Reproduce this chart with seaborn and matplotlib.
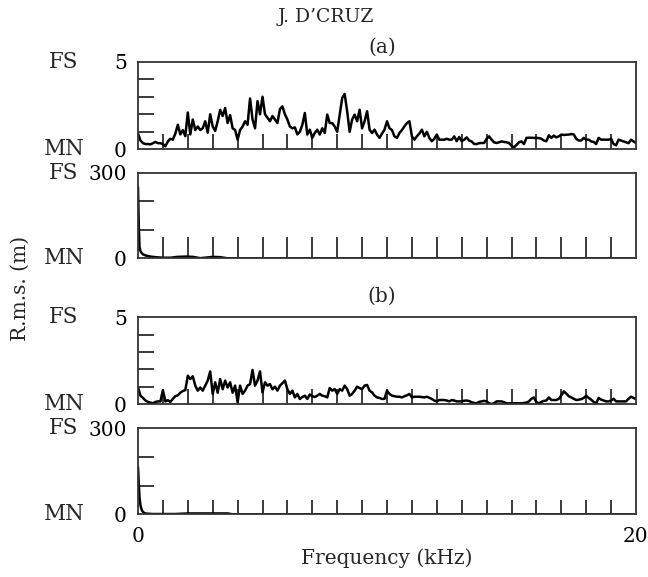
import numpy as np
import pandas as pd
import matplotlib
matplotlib.use("Agg")
import matplotlib.pyplot as plt
import seaborn as sns

# ---------------- data ----------------
# frequency grid (kHz) for the narrow-range spectra, 0.1 kHz spacing
freq_hi = np.round(np.arange(0, 201) * 0.1, 1)

rms_a_hi = [
    0.9, 0.5, 0.35, 0.3, 0.3, 0.28, 0.35, 0.42, 0.35, 0.35,
    0.3, 0.17, 0.45, 0.6, 0.55, 0.9, 1.4, 0.85, 1.1, 0.75,
    2.1, 0.85, 1.7, 1.1, 1.3, 1.1, 1.2, 1.6, 0.95, 2.0,
    1.3, 1.05, 1.6, 2.25, 1.9, 2.35, 1.5, 1.95, 1.2, 1.1,
    0.55, 1.1, 1.3, 1.6, 1.4, 2.9, 1.7, 1.2, 2.75, 2.0,
    3.0, 2.0, 1.8, 1.6, 1.9, 1.7, 1.5, 2.3, 2.45, 2.0,
    1.7, 1.3, 1.2, 1.25, 0.85, 1.0, 1.4, 2.07, 0.84, 1.12,
    0.65, 0.93, 1.12, 0.84, 1.2, 0.93, 1.98, 1.5, 1.5, 1.3,
    1.0, 1.98, 2.93, 3.16, 2.17, 1.0, 1.7, 1.98, 1.6, 2.26,
    1.2, 1.6, 2.17, 1.12, 0.93, 1.12, 0.84, 0.65, 0.9, 1.12,
    1.6, 1.2, 1.1, 0.74, 0.65, 0.93, 1.1, 1.31, 1.5, 1.6,
    0.74, 0.55, 0.74, 0.9, 1.12, 0.74, 1.0, 0.65, 0.46, 0.6,
    0.84, 0.55, 0.55, 0.55, 0.6, 0.55, 0.55, 0.74, 0.46, 0.7,
    0.46, 0.55, 0.68, 0.5, 0.45, 0.3, 0.3, 0.35, 0.36, 0.36,
    0.6, 0.74, 0.55, 0.4, 0.36, 0.4, 0.45, 0.42, 0.4, 0.36,
    0.2, 0.11, 0.25, 0.4, 0.45, 0.3, 0.65, 0.66, 0.66, 0.65,
    0.65, 0.64, 0.6, 0.5, 0.46, 0.8, 0.65, 0.78, 0.68, 0.74,
    0.84, 0.82, 0.83, 0.84, 0.87, 0.85, 0.6, 0.5, 0.5, 0.65,
    0.55, 0.55, 0.45, 0.42, 0.3, 0.65, 0.55, 0.55, 0.55, 0.55,
    0.6, 0.3, 0.23, 0.55, 0.5, 0.45, 0.4, 0.35, 0.55, 0.45,
    0.36,
]

rms_b_hi = [
    0.96, 0.48, 0.35, 0.2, 0.12, 0.08, 0.04, 0.12, 0.15, 0.15,
    0.8, 0.15, 0.22, 0.12, 0.3, 0.45, 0.5, 0.65, 0.75, 0.8,
    1.63, 1.44, 1.6, 1.06, 0.77, 0.95, 0.77, 1.06, 1.35, 1.88,
    0.58, 1.25, 0.65, 1.44, 0.85, 1.35, 0.95, 1.25, 0.65, 1.06,
    0.1, 1.06, 0.58, 0.77, 1.06, 1.15, 1.96, 1.06, 1.35, 1.88,
    0.67, 1.25, 1.06, 1.15, 0.85, 1.0, 0.77, 1.06, 1.2, 1.35,
    0.85, 0.58, 0.77, 0.38, 0.58, 0.29, 0.4, 0.48, 0.29, 0.55,
    0.45, 0.4, 0.48, 0.58, 0.48, 0.45, 0.38, 0.92, 0.77, 0.86,
    0.58, 0.86, 0.77, 1.06, 0.86, 0.48, 0.58, 0.77, 1.0, 0.92,
    0.86, 1.06, 1.1, 0.77, 0.67, 0.48, 0.38, 0.35, 0.29, 0.3,
    0.77, 0.58, 0.48, 0.45, 0.42, 0.42, 0.38, 0.45, 0.5, 0.58,
    0.38, 0.42, 0.42, 0.42, 0.4, 0.38, 0.42, 0.36, 0.29, 0.2,
    0.15, 0.23, 0.23, 0.23, 0.2, 0.15, 0.23, 0.2, 0.15, 0.15,
    0.15, 0.19, 0.2, 0.17, 0.1, 0.06, 0.04, 0.12, 0.15, 0.18,
    0.15, 0.04, 0.0, 0.04, 0.15, 0.15, 0.15, 0.1, 0.04, 0.04,
    0.04, 0.04, 0.04, 0.04, 0.04, 0.06, 0.08, 0.15, 0.3, 0.38,
    0.1, 0.04, 0.12, 0.18, 0.2, 0.38, 0.23, 0.23, 0.23, 0.3,
    0.5, 0.73, 0.6, 0.45, 0.38, 0.3, 0.23, 0.25, 0.28, 0.35,
    0.48, 0.35, 0.25, 0.12, 0.04, 0.35, 0.25, 0.2, 0.15, 0.15,
    0.2, 0.3, 0.15, 0.15, 0.15, 0.15, 0.15, 0.3, 0.42, 0.35,
    0.28,
]

# wide-range spectra (0-300 m)
freq_a_lo = [0, 0.03, 0.06, 0.1, 0.15, 0.2, 0.3, 0.4, 0.5, 0.7, 1.0, 1.3,
             1.6, 1.9, 2.2, 2.5, 2.8, 3.0, 3.3, 3.6, 20]
rms_a_lo = [250, 120, 40, 25, 18, 14, 10, 8, 6, 4, 2, 2,
            5, 6, 5, 0.5, 3, 5, 4, 0, 0]

freq_b_lo = [0, 0.03, 0.06, 0.1, 0.15, 0.2, 0.25, 0.3, 0.4, 0.6, 1.0, 1.5,
             2.0, 2.5, 3.0, 3.6, 3.8, 20]
rms_b_lo = [165, 110, 60, 30, 15, 8, 5, 3, 2, 1, 1, 1,
            3, 3, 3, 3, 0, 0]

panel_titles = ["(a)", "(b)"]
x_tick_labels = ["0", "20"]

# ---------------- style ----------------
sns.set_theme(style="white")
plt.rcParams["font.family"] = ["DejaVu Serif"]
plt.rcParams["mathtext.fontset"] = "dejavuserif"

W, H = 648, 577
fig = plt.figure(figsize=(W / 100, H / 100), dpi=100)
fig.patch.set_facecolor("white")

left_px, right_px = 138, 636
FS = 14.5
PX = 0.72  # points per pixel


def make_axes(top_px, bot_px):
    return fig.add_axes([left_px / W, 1 - bot_px / H,
                         (right_px - left_px) / W, (bot_px - top_px) / H])


def style_axes(ax, ymax, yinner, xtick_len_px, show_x_labels):
    ax.set_xlim(0, 20)
    ax.set_ylim(0, ymax)
    ax.set_xlabel("")
    ax.set_ylabel("")
    for s in ax.spines.values():
        s.set_color("#333333")
        s.set_linewidth(1.3)
        s.set_visible(True)
    ax.set_xticks([0, 20])
    ax.set_xticks(np.arange(1, 20), minor=True)
    ax.set_yticks([0, ymax])
    ax.set_yticks(yinner, minor=True)
    ax.set_yticklabels(["0", str(ymax)])
    if show_x_labels:
        ax.set_xticklabels(x_tick_labels)
    else:
        ax.set_xticklabels([])
    ax.tick_params(axis="both", which="major", length=0, labelsize=FS,
                   colors="black")
    ax.tick_params(axis="y", which="major", pad=8)
    ax.tick_params(axis="x", which="major", pad=9)
    ax.tick_params(axis="y", which="minor", direction="in",
                   length=15.5 * PX, width=1.2, color="#1a1a1a", left=True)
    ax.tick_params(axis="x", which="minor", direction="in",
                   length=xtick_len_px * PX, width=1.2, color="#1a1a1a",
                   bottom=True)
    ax.text(-0.1486, 1.0, "FS", transform=ax.transAxes, ha="center",
            va="center", fontsize=15.5)
    ax.text(-0.1486, 0.0, "MN", transform=ax.transAxes, ha="center",
            va="center", fontsize=15.5)


line_kw = dict(color="black", linewidth=1.8, estimator=None, sort=False)

# panel (a) narrow range
ax1 = make_axes(61.7, 149.3)
sns.lineplot(x=freq_hi, y=rms_a_hi, ax=ax1, **line_kw)
style_axes(ax1, 5, [1, 2, 3, 4], 15, False)

# panel (a) wide range
ax2 = make_axes(172.7, 258.3)
sns.lineplot(x=freq_a_lo, y=rms_a_lo, ax=ax2, **line_kw)
style_axes(ax2, 300, [100, 200], 21, False)

# panel (b) narrow range
ax3 = make_axes(317.3, 404.0)
sns.lineplot(x=freq_hi, y=rms_b_hi, ax=ax3, **line_kw)
style_axes(ax3, 5, [1, 2, 3, 4], 15, False)

# panel (b) wide range
ax4 = make_axes(428.3, 514.3)
sns.lineplot(x=freq_b_lo, y=rms_b_lo, ax=ax4, **line_kw)
style_axes(ax4, 300, [100, 200], 14, True)

# texts
fig.text(326 / W, 1 - 16.5 / H, "J. D\u2019CRUZ", ha="center", va="center",
         fontsize=13.5)
fig.text(382 / W, 1 - 47 / H, panel_titles[0], ha="center", va="center",
         fontsize=FS)
fig.text(382 / W, 1 - 296 / H, panel_titles[1], ha="center", va="center",
         fontsize=FS)
fig.text(387 / W, 1 - 558 / H, "Frequency (kHz)", ha="center", va="center",
         fontsize=FS)
fig.text(20 / W, 1 - 288 / H, "R.m.s. (m)", ha="center", va="center",
         rotation=90, fontsize=FS)

fig.savefig("out.png", dpi=100, facecolor="white")
